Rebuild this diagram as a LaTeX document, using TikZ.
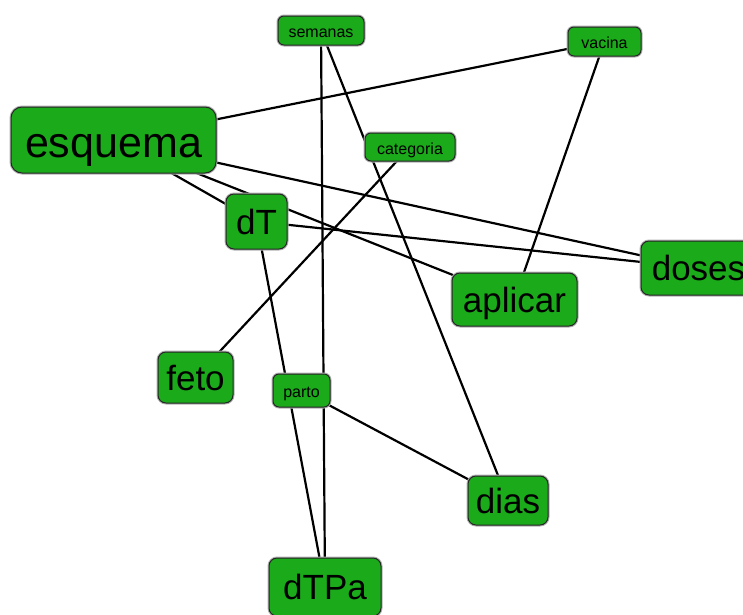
\documentclass[tikz,border=0pt]{standalone}
\usepackage{fontspec}
\newfontfamily\mapfont{Liberation Sans}
\usetikzlibrary{backgrounds}
\definecolor{conceptgreen}{RGB}{26,170,26}
\begin{document}
\begin{tikzpicture}[x=1pt,y=-1pt,
  concept/.style={draw=black!85, line width=1pt, fill=conceptgreen,
    rounded corners=#1, inner sep=0pt, align=center,
    preaction={draw=black!30, line width=3pt}},
  bigconcept/.style={concept=11pt, font=\mapfont\fontsize{43}{48}\selectfont,
    text height=34pt, text depth=0pt},
  midconcept/.style={concept=8pt, font=\mapfont\fontsize{35}{40}\selectfont,
    text height=25pt, text depth=0pt},
  smallconcept/.style={concept=6pt, font=\mapfont\fontsize{16}{19}\selectfont,
    text height=14.5pt, text depth=0pt},
  link/.style={draw=black, line width=2.2pt}]
  \useasboundingbox (0,0) rectangle (743,614);
  \clip (0,0) rectangle (743,614);

  % concepts
  \node[bigconcept, minimum width=205pt, minimum height=66pt] (esquema) at (113.5,140) {esquema};
  \node[smallconcept, minimum width=86pt, minimum height=29pt] (semanas) at (321,30.5) {semanas};
  \node[smallconcept, minimum width=90pt, minimum height=28pt] (categoria) at (410,147) {categoria};
  \node[smallconcept, minimum width=73pt, minimum height=29pt] (vacina) at (604.5,41.5) {vacina};
  \node[midconcept, minimum width=61pt, minimum height=55pt] (dT) at (256.5,221.5) {dT};
  \node[midconcept, minimum width=115pt, minimum height=54pt] (doses) at (698.5,268) {doses};
  \node[midconcept, minimum width=125pt, minimum height=53pt] (aplicar) at (514.5,299.5) {aplicar};
  \node[midconcept, minimum width=75pt, minimum height=51pt] (feto) at (195.5,377.5) {feto};
  \node[smallconcept, minimum width=57pt, minimum height=33pt] (parto) at (301.5,390.5) {parto};
  \node[midconcept, minimum width=80pt, minimum height=49pt] (dias) at (508,500.5) {dias};
  \node[midconcept, minimum width=112pt, minimum height=58pt] (dTPa) at (325,587) {dTPa};

  % links, drawn centre to centre beneath the concepts
  \begin{scope}[on background layer]
    \fill[white] (0,0) rectangle (743,614);
    \draw[link] (esquema.center) -- (vacina.center);
    \draw[link] (esquema.center) -- (doses.center);
    \draw[link] (esquema.center) -- (dT.center);
    \draw[link] (esquema.center) -- (aplicar.center);
    \draw[link] (dT.center) -- (doses.center);
    \draw[link] (dT.center) -- (dTPa.center);
    \draw[link] (vacina.center) -- (aplicar.center);
    \draw[link] (categoria.center) -- (feto.center);
    \draw[link] (semanas.center) -- (dias.center);
    \draw[link] (semanas.center) -- (dTPa.center);
    \draw[link] (parto.center) -- (dias.center);
  \end{scope}
\end{tikzpicture}
\end{document}
